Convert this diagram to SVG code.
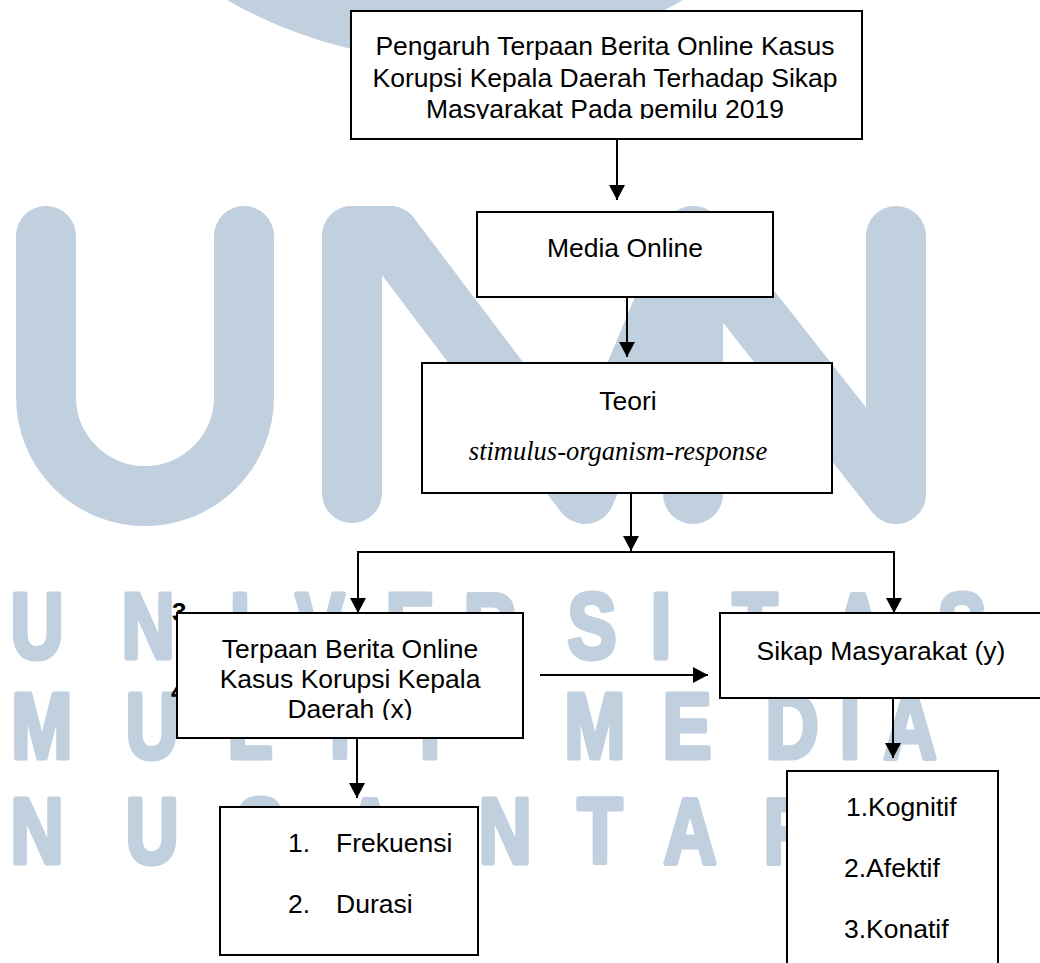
<svg xmlns="http://www.w3.org/2000/svg" width="1040" height="963" viewBox="0 0 1040 963">
<style>
.wm{fill:#c1d0de}
.wms{fill:none;stroke:#c1d0de;stroke-width:60;stroke-linecap:round;stroke-linejoin:round}
.wmt{font-family:"Liberation Sans",Arial,sans-serif;font-weight:bold;font-size:92px;fill:#c1d0de;stroke:#c1d0de;stroke-width:5;stroke-linejoin:round;text-anchor:middle}
.box{fill:#fff;stroke:#000;stroke-width:2}
.t{font-family:"Liberation Sans",Arial,sans-serif;font-size:26.5px;fill:#000}
.c{text-anchor:middle}
.it{font-family:"Liberation Serif","Times New Roman",serif;font-style:italic;font-size:26.5px;fill:#000;text-anchor:middle}
.ln{fill:none;stroke:#000;stroke-width:2}
.dg{font-family:"Liberation Sans",Arial,sans-serif;font-weight:bold;font-size:26px;fill:#000}
</style>
<defs>
<marker id="ah" markerUnits="userSpaceOnUse" markerWidth="16" markerHeight="16" refX="15" refY="8" orient="auto">
<path d="M0,0 L15,8 L0,16 z" fill="#000"/>
</marker>
<clipPath id="clipTop"><rect x="351" y="11" width="511" height="108"/></clipPath>
<clipPath id="clipX"><rect x="177" y="613" width="346" height="107"/></clipPath>
</defs>
<rect width="1040" height="963" fill="#fff"/>
<g id="watermark">
<circle class="wm" cx="455" cy="-395" r="456"/>
<path class="wms" d="M46,236 V397 A99,99 0 0 0 244,397 V236"/>
<path class="wms" d="M352,493 V236"/>
<path class="wms" d="M390,236 L585,494 L693,236"/>
<path class="wms" d="M352,236 H390"/>
<path class="wms" d="M693,494 V236 L896,494 V236"/>
<g transform="scale(0.8,1)">
<text class="wmt" x="46.25 185 300 400 512.5 612.5 740 826.25 943.75 1072.5 1202.5" y="658">UNIVERSITAS</text>
<text class="wmt" x="52.5 190 312.5 425 537.5 743.75 858.75 990 1062.5 1137.5" y="758">MULTIMEDIA</text>
<text class="wmt" x="46.25 190 325 462.5 631.25 750 862.5 987.5 1112.5" y="863">NUSANTARA</text>
</g>
</g>
<g id="connectors">
<line class="ln" x1="617" y1="139" x2="617" y2="200" marker-end="url(#ah)"/>
<line class="ln" x1="627" y1="297" x2="627" y2="357" marker-end="url(#ah)"/>
<line class="ln" x1="631" y1="490" x2="631" y2="551" marker-end="url(#ah)"/>
<polyline class="ln" points="358,613 358,552 894,552 894,613"/>
<line class="ln" x1="358" y1="560" x2="358" y2="613" marker-end="url(#ah)"/>
<line class="ln" x1="894" y1="560" x2="894" y2="613" marker-end="url(#ah)"/>
<line class="ln" x1="540" y1="675" x2="708" y2="675" marker-end="url(#ah)"/>
<line class="ln" x1="357" y1="738" x2="357" y2="798" marker-end="url(#ah)"/>
<line class="ln" x1="893" y1="698" x2="893" y2="758" marker-end="url(#ah)"/>
</g>
<g id="n-judul">
<rect class="box" x="351" y="11" width="511" height="128"/>
<g clip-path="url(#clipTop)">
<text class="t c" x="605" y="55">Pengaruh Terpaan Berita Online Kasus</text>
<text class="t c" x="605" y="87">Korupsi Kepala Daerah Terhadap Sikap</text>
<text class="t c" x="605" y="118">Masyarakat Pada pemilu 2019</text>
</g>
</g>
<g id="n-media">
<rect class="box" x="477" y="212" width="296" height="85"/>
<text class="t c" x="625" y="257">Media Online</text>
</g>
<g id="n-teori">
<rect class="box" x="422" y="363" width="410" height="130"/>
<text class="t c" x="628" y="410">Teori</text>
<text class="it" x="618" y="460">stimulus-organism-response</text>
</g>
<g id="n-x">
<text class="dg" x="172" y="621">3</text>
<text class="dg" x="171" y="700">4</text>
<rect class="box" x="177" y="613" width="346" height="125"/>
<g clip-path="url(#clipX)">
<text class="t c" x="350" y="658">Terpaan Berita Online</text>
<text class="t c" x="350" y="688">Kasus Korupsi Kepala</text>
<text class="t c" x="350" y="718">Daerah (x)</text>
</g>
</g>
<g id="n-y">
<rect class="box" x="720" y="613" width="340" height="85"/>
<text class="t c" x="881" y="660">Sikap Masyarakat (y)</text>
</g>
<g id="n-x-indikator">
<rect class="box" x="220" y="807" width="258" height="148"/>
<text class="t" x="288" y="852">1.</text>
<text class="t" x="336" y="852">Frekuensi</text>
<text class="t" x="288" y="913">2.</text>
<text class="t" x="336" y="913">Durasi</text>
</g>
<g id="n-y-indikator">
<rect class="box" x="787" y="771" width="211" height="210"/>
<text class="t" x="846" y="816">1.Kognitif</text>
<text class="t" x="844" y="877">2.Afektif</text>
<text class="t" x="844" y="938">3.Konatif</text>
</g>
</svg>
